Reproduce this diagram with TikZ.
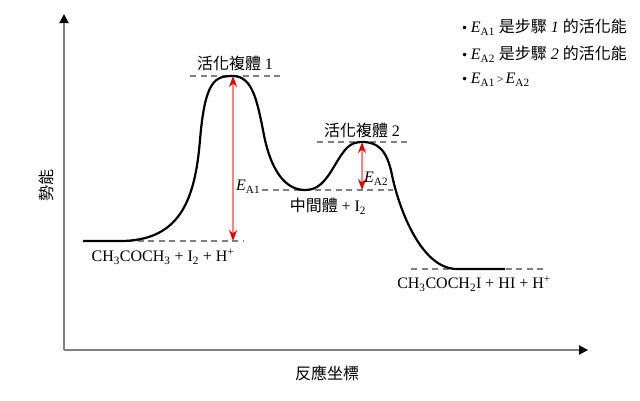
\documentclass[tikz,border=0pt]{standalone}
\usepackage{fontspec}
\setmainfont{Liberation Serif}
\newfontfamily\cjk{Noto Sans CJK TC}
\newfontfamily\dvs{DejaVu Sans}
\usetikzlibrary{arrows.meta}
\newcommand\smallsym[1]{{\fontsize{12}{14}\selectfont #1}}
\newcommand\bul{{\dvs\fontsize{12}{14}\selectfont •}}
\tikzset{
  lbl/.style={font=\fontsize{16}{18}\selectfont, inner sep=0pt},
  guide/.style={draw=gray, line width=1.6pt, dash pattern=on 6pt off 4.5pt},
  axis/.style={draw=gray, line width=2pt, -{Triangle[length=9pt,width=9pt,color=black]}},
  curve/.style={draw=black, line width=2.2pt},
  ea/.style={draw=red!50!white, line width=1.5pt,
    {Stealth[length=11pt,width=8pt,color=red!90!black]}-{Stealth[length=11pt,width=8pt,color=red!90!black]}}
}
\begin{document}
\begin{tikzpicture}[x=1pt,y=-1pt]
\useasboundingbox (0,0) rectangle (640,400);
% axes
\coordinate (o) at (64,350);
\coordinate (ytop) at (64,14);
\coordinate (xend) at (588,350);
\draw[axis] (o) -- (ytop);
\draw[axis] (o) -- (xend);
\node[lbl, rotate=90] (ylab) at (46,185) {\cjk 勢能};
\node[lbl] (xlab) at (327,373) {\cjk 反應坐標};
% guide lines
\coordinate (g1a) at (127,241); \coordinate (g1b) at (243,241);
\coordinate (g2a) at (190,76);  \coordinate (g2b) at (281,76);
\coordinate (g3a) at (262,190); \coordinate (g3b) at (393,190);
\coordinate (g4a) at (317,142); \coordinate (g4b) at (408,142);
\coordinate (g5a) at (411,269); \coordinate (g5b) at (544,269);
\draw[guide] (g1a) -- (g1b);
\draw[guide] (g2a) -- (g2b);
\draw[guide] (g3a) -- (g3b);
\draw[guide] (g4a) -- (g4b);
\draw[guide] (g5a) -- (g5b);
% energy curve
\draw[curve] (83,241) -- (120,241)
  .. controls (180,241) and (195,200) .. (200,140)
  .. controls (205,80) and (215,76) .. (233,76)
  .. controls (252,76) and (257,100) .. (263,130)
  .. controls (270,170) and (285,190) .. (305,190)
  .. controls (318,190) and (325,182) .. (335,165)
  .. controls (345,148) and (350,142) .. (362,142)
  .. controls (378,142) and (387,150) .. (392,175)
  .. controls (398,205) and (420,269) .. (457,269)
  -- (505,269);
% activation energy arrows
\coordinate (a1b) at (233,241); \coordinate (a1t) at (233,76);
\coordinate (a2b) at (362,190); \coordinate (a2t) at (362,142);
\draw[ea] (a1b) -- (a1t);
\draw[ea] (a2b) -- (a2t);
% labels
\node[lbl] (ts1) at (235,63) {\cjk 活化複體 \rmfamily 1};
\node[lbl] (ts2) at (362,130) {\cjk 活化複體 \rmfamily 2};
\node[lbl, anchor=west] (ea1) at (236,187) {\textit{E}\textsubscript{A1}};
\node[lbl, anchor=west] (ea2) at (364,179) {\textit{E}\textsubscript{A2}};
\node[lbl] (mid) at (328,206) {\cjk 中間體 \rmfamily + I\textsubscript{2}};
\node[lbl] (react) at (163,257) {CH\textsubscript{3}COCH\textsubscript{3} + I\textsubscript{2} + H\textsuperscript{+}};
\node[lbl] (prod) at (474,284) {CH\textsubscript{3}COCH\textsubscript{2}I + HI + H\textsuperscript{+}};
% legend
\node[lbl, anchor=west] (l1) at (461,27) {\bul\,\textit{E}\textsubscript{A1} {\cjk 是步驟} \textit{1} {\cjk 的活化能}};
\node[lbl, anchor=west] (l2) at (461,54) {\bul\,\textit{E}\textsubscript{A2} {\cjk 是步驟} \textit{2} {\cjk 的活化能}};
\node[lbl, anchor=west] (l3) at (461,80) {\bul\,\textit{E}\textsubscript{A1}\smallsym{\,>\,}\textit{E}\textsubscript{A2}};
\end{tikzpicture}
\end{document}
